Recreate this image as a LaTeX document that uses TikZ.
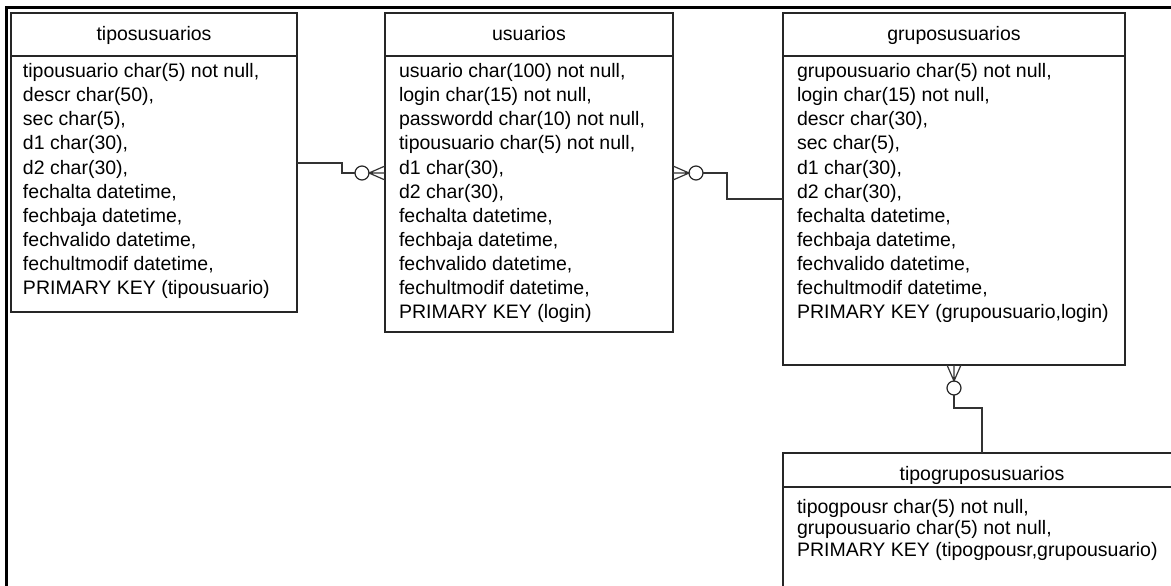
\documentclass[tikz,border=0pt]{standalone}
\usepackage{fontspec}
\setmainfont{Liberation Sans}
\usetikzlibrary{calc}
\begin{document}
\begin{tikzpicture}[x=1pt,y=-1pt,
  every node/.style={inner sep=0pt, outer sep=0pt},
  box/.style={draw=black!85, line width=1.2pt, anchor=north west},
  title/.style={anchor=base, font=\fontsize{19.5}{22}\selectfont},
  fields/.style={anchor=north west, align=left, font=\fontsize{19.5}{24.1}\selectfont},
  conn/.style={draw=black!80, line width=1.2pt},
  opt/.style={circle, draw=black!85, line width=1.2pt, minimum size=14pt},
  frame/.style={line width=2.5pt}]

\clip (0,0) rectangle (1171,586);
\draw[frame] (6.5,600) |- (1180,7.5);

% tiposusuarios
\node[box, minimum width=286pt, minimum height=43pt] (tipH) at (11,13) {};
\node[box, minimum width=286pt, minimum height=256pt] (tipB) at (tipH.south west) {};
\node[title] (tipN) at ($(tipH.north)+(0,28)$) {tiposusuarios};
\node[fields] (tipT) at ($(tipB.north west)+(12,7.5)$) {tipousuario char(5) not null,\\
descr char(50),\\
sec char(5),\\
d1 char(30),\\
d2 char(30),\\
fechalta datetime,\\
fechbaja datetime,\\
fechvalido datetime,\\
fechultmodif datetime,\\
PRIMARY KEY (tipousuario)};

% usuarios
\node[box, minimum width=288pt, minimum height=43pt] (usuH) at (385,13) {};
\node[box, minimum width=288pt, minimum height=276pt] (usuB) at (usuH.south west) {};
\node[title] (usuN) at ($(usuH.north)+(0,28)$) {usuarios};
\node[fields] (usuT) at ($(usuB.north west)+(14,7.5)$) {usuario char(100) not null,\\
login char(15) not null,\\
passwordd char(10) not null,\\
tipousuario char(5) not null,\\
d1 char(30),\\
d2 char(30),\\
fechalta datetime,\\
fechbaja datetime,\\
fechvalido datetime,\\
fechultmodif datetime,\\
PRIMARY KEY (login)};

% gruposusuarios
\node[box, minimum width=342pt, minimum height=43pt] (gruH) at (783,13) {};
\node[box, minimum width=342pt, minimum height=309pt] (gruB) at (gruH.south west) {};
\node[title] (gruN) at ($(gruH.north)+(0,28)$) {gruposusuarios};
\node[fields] (gruT) at ($(gruB.north west)+(14,7.5)$) {grupousuario char(5) not null,\\
login char(15) not null,\\
descr char(30),\\
sec char(5),\\
d1 char(30),\\
d2 char(30),\\
fechalta datetime,\\
fechbaja datetime,\\
fechvalido datetime,\\
fechultmodif datetime,\\
PRIMARY KEY (grupousuario,login)};

% tipogruposusuarios
\node[box, minimum width=398pt, minimum height=34pt] (tgrH) at (783,453) {};
\node[box, minimum width=398pt, minimum height=160pt] (tgrB) at (tgrH.south west) {};
\node[title] (tgrN) at ($(tgrH.north)+(0,27)$) {tipogruposusuarios};
\node[fields, font=\fontsize{19.5}{21.8}\selectfont] (tgrT) at ($(tgrB.north west)+(14,12)$) {tipogpousr char(5) not null,\\
grupousuario char(5) not null,\\
PRIMARY KEY (tipogpousr,grupousuario)};

% tiposusuarios -- usuarios
\node[opt, anchor=east] (o1) at ($(usuB.west |- 0,173)+(-16,0)$) {};
\draw[conn] (tipB.east |- 0,163) -- ++(45,0) |- (o1.west);
\draw[conn] (usuB.west |- 0,166) -- (o1.east) -- (usuB.west |- 0,180)
            (o1.east) -- (usuB.west |- 0,173);

% usuarios -- gruposusuarios
\node[opt, anchor=west] (o2) at ($(usuB.east |- 0,173)+(16,0)$) {};
\draw[conn] (usuB.east |- 0,166) -- (o2.west) -- (usuB.east |- 0,180)
            (o2.west) -- (usuB.east |- 0,173);
\draw[conn] (o2.east) -- ++(24,0) |- (gruB.west |- 0,199);

% gruposusuarios -- tipogruposusuarios
\node[opt, anchor=north] (o3) at ($(gruB.south)+(0,16)$) {};
\draw[conn] ($(gruB.south)+(-7,0)$) -- (o3.north) -- ($(gruB.south)+(7,0)$)
            (o3.north) -- (gruB.south);
\draw[conn] (o3.south) -- ++(0,13) -| (tgrH.north);
\end{tikzpicture}
\end{document}
